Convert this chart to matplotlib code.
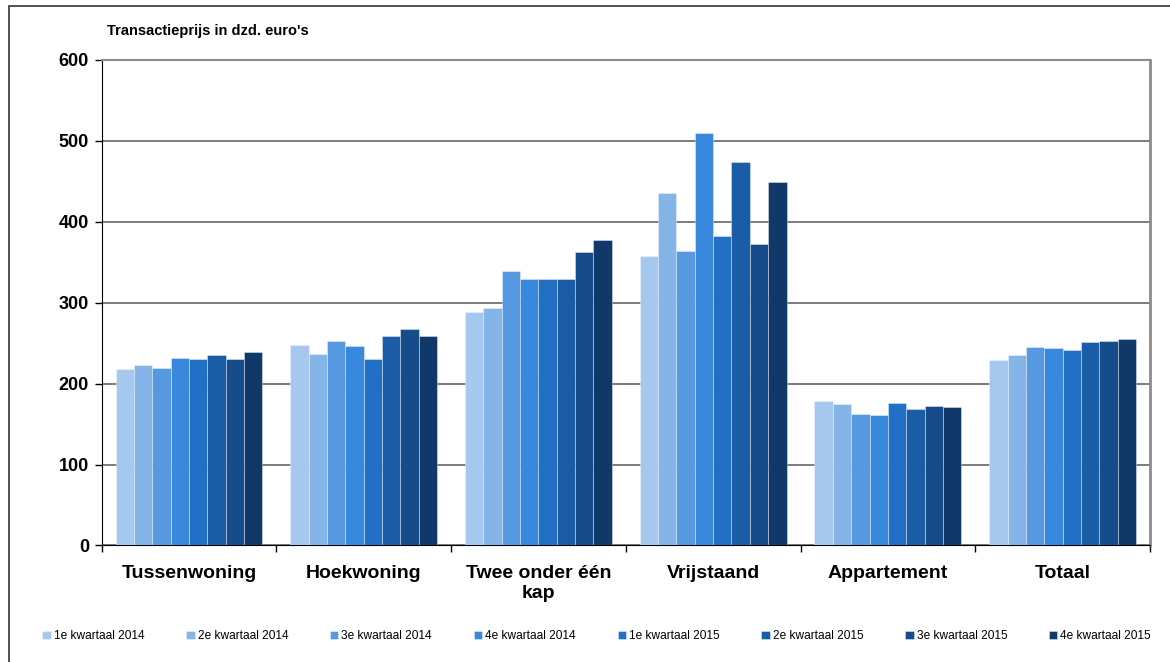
import numpy as np
import matplotlib.pyplot as plt
from matplotlib.patches import Rectangle

plt.rcParams['font.family'] = ['Liberation Sans', 'DejaVu Sans']

categories = ['Tussenwoning', 'Hoekwoning', 'Twee onder één\nkap', 'Vrijstaand', 'Appartement', 'Totaal']
quarters = ['1e kwartaal 2014', '2e kwartaal 2014', '3e kwartaal 2014', '4e kwartaal 2014',
            '1e kwartaal 2015', '2e kwartaal 2015', '3e kwartaal 2015', '4e kwartaal 2015']

# prices in thousands of euros, one list per quarter, in category order
q1_2014 = [218, 248, 288, 358, 179, 229]
q2_2014 = [223, 237, 293, 435, 175, 235]
q3_2014 = [219, 253, 339, 364, 163, 245]
q4_2014 = [232, 247, 329, 510, 161, 244]
q1_2015 = [230, 231, 329, 383, 176, 241]
q2_2015 = [235, 259, 329, 474, 169, 252]
q3_2015 = [231, 267, 363, 373, 172, 253]
q4_2015 = [239, 259, 377, 449, 171, 255]
series = [q1_2014, q2_2014, q3_2014, q4_2014, q1_2015, q2_2015, q3_2015, q4_2015]

colors = ['#a7c8ee', '#84b4e8', '#5799e1', '#3888de', '#2170c6', '#1b5ca6', '#174c8a', '#103868']

fig = plt.figure(figsize=(11.7, 6.62), dpi=100)
ax = fig.add_axes([0.0868, 0.176, 0.8961, 0.7334])

x = np.arange(len(categories))
w = 0.105
for i, (vals, c) in enumerate(zip(series, colors)):
    ax.bar(x + (i - 3.5) * w, vals, w, color=c, edgecolor=(1, 1, 1, 0.45),
           linewidth=0.6, label=quarters[i], zorder=3)

ax.set_xlim(-0.5, len(categories) - 0.5)
ax.set_ylim(0, 600)
ax.set_yticks(range(0, 601, 100))
ax.yaxis.grid(True, color='#666666', linewidth=1.2, zorder=0)
ax.set_axisbelow(True)

ax.set_xticks(np.arange(-0.5, len(categories), 1))
ax.set_xticklabels([])
ax.set_xticks(x, minor=True)
ax.set_xticklabels(categories, minor=True, fontsize=14, fontweight='bold', linespacing=1.25)
ax.tick_params(axis='x', which='minor', length=0, pad=14)
ax.tick_params(axis='x', which='major', length=5, width=1, direction='out', color='black')
ax.tick_params(axis='y', length=5, width=1, direction='out', labelsize=13, pad=4)
for lbl in ax.get_yticklabels():
    lbl.set_fontweight('bold')

ax.spines['left'].set_color('black')
ax.spines['bottom'].set_color('black')
ax.spines['top'].set_color('#8c8c8c')
ax.spines['top'].set_linewidth(1.5)
ax.spines['right'].set_color('#8c8c8c')
ax.spines['right'].set_linewidth(2)

fig.text(107 / 1170, 1 - 31 / 662, "Transactieprijs in dzd. euro's", fontsize=10.5,
         fontweight='bold', va='center', ha='left')

fig.legend(loc='center', bbox_to_anchor=(0.510, 1 - 636 / 662), ncol=8, frameon=False,
           fontsize=8.6, handlelength=0.7, handleheight=0.7, handletextpad=0.25,
           columnspacing=3.5)

# outer chart border
fig.add_artist(Rectangle((9 / 1170, -0.1), 1.2, 1.1 - 6 / 662, transform=fig.transFigure,
                         fill=False, edgecolor='#333333', linewidth=1.2))

fig.savefig('out.png', dpi=100)
